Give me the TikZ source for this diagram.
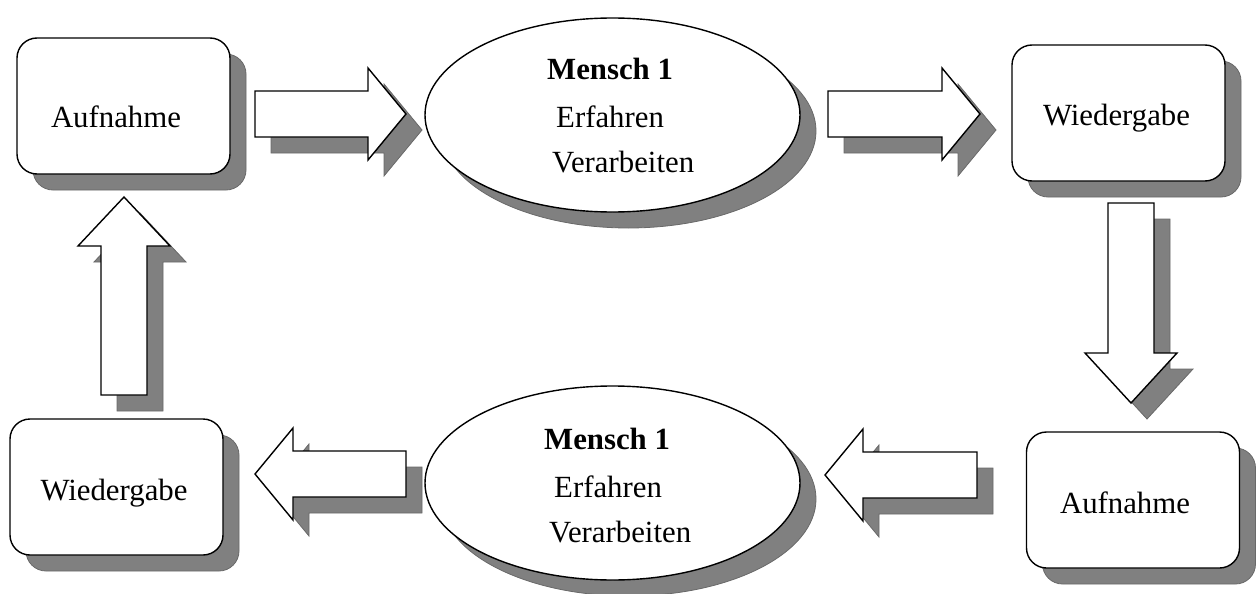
\documentclass[tikz,border=0pt]{standalone}
\usepackage{fontspec}
\setmainfont{Liberation Serif}
\usetikzlibrary{shapes.geometric,shadows}
\definecolor{shfill}{RGB}{128,128,128}
\definecolor{shedge}{RGB}{105,105,105}
\begin{document}
\begin{tikzpicture}[x=1pt,y=-1pt,
  shad/.style={drop shadow={shadow xshift=16pt, shadow yshift=-16pt, opacity=1, fill=shfill, draw=shedge, line width=0.8pt}},
  boxnode/.style={shape=rectangle, rounded corners=20pt, draw=black, line width=1.4pt, fill=white,
    minimum width=213pt, minimum height=136pt, inner sep=0pt, shad},
  ellnode/.style={ellipse, draw=black, line width=1.4pt, fill=white,
    minimum width=375pt, minimum height=194pt, inner sep=0pt, shad},
  barrow/.style={draw=black, line width=1.4pt, fill=white, line join=miter, shad},
  lbl/.style={font=\fontsize{30.8}{37}\selectfont, inner sep=0pt}
]
\useasboundingbox (0,0) rectangle (1258,594);

% boxes and ellipses
\node[boxnode] (aufTop) at (123.5,106) {};
\node[ellnode] (menTop) at (612.5,115) {};
\node[boxnode] (wieTop) at (1118.5,113) {};
\node[boxnode] (aufBot) at (1133,500) {};
\node[ellnode] (menBot) at (612.5,483) {};
\node[boxnode] (wieBot) at (116.5,487) {};

% texts
\node[lbl, anchor=base] (taufTop) at (116,127) {Aufnahme};
\node[lbl, anchor=base] (twieTop) at (1116.5,125) {Wiedergabe};
\node[lbl, anchor=base] (taufBot) at (1125,513) {Aufnahme};
\node[lbl, anchor=base] (twieBot) at (114,500) {Wiedergabe};

\node[lbl, anchor=base west, font=\fontsize{30.8}{37}\selectfont\bfseries] (m1a) at (547,80) {Mensch 1};
\node[lbl, anchor=base west] (m1b) at (556,127) {Erfahren};
\node[lbl, anchor=base west] (m1c) at (552,172) {Verarbeiten};
\node[lbl, anchor=base west, font=\fontsize{30.8}{37}\selectfont\bfseries] (m2a) at (544,449) {Mensch 1};
\node[lbl, anchor=base west] (m2b) at (554,497) {Erfahren};
\node[lbl, anchor=base west] (m2c) at (549,542) {Verarbeiten};

% block arrows
\path[barrow] (255,91) -- (368,91) -- (368,68) -- (406,114) -- (368,160) -- (368,137) -- (255,137) -- cycle;
\path[barrow] (828,91) -- (942,91) -- (942,68) -- (980,114) -- (942,160) -- (942,137) -- (828,137) -- cycle;
\path[barrow] (1108,203) -- (1154,203) -- (1154,353) -- (1177,353) -- (1131,403) -- (1085,353) -- (1108,353) -- cycle;
\path[barrow] (977,452) -- (863,452) -- (863,429) -- (825,475) -- (863,521) -- (863,498) -- (977,498) -- cycle;
\path[barrow] (406,451) -- (293,451) -- (293,428) -- (255,474) -- (293,520) -- (293,497) -- (406,497) -- cycle;
\path[barrow] (101,395) -- (101,246) -- (78,246) -- (124,197) -- (170,246) -- (147,246) -- (147,395) -- cycle;
\end{tikzpicture}
\end{document}
